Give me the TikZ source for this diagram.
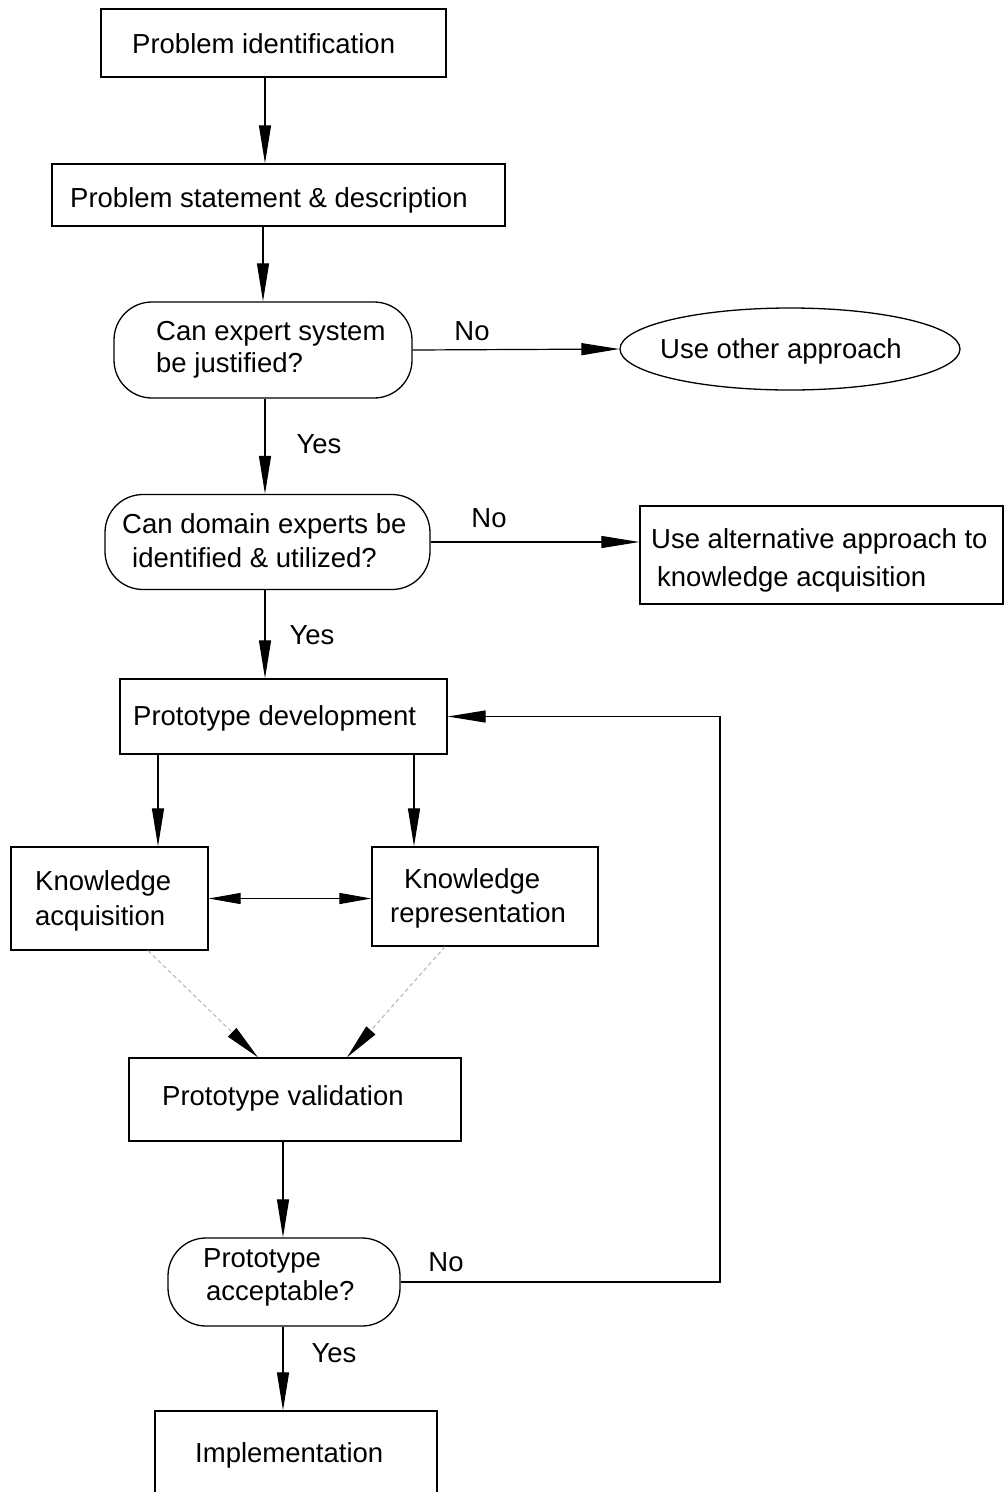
\documentclass[tikz,border=0pt]{standalone}
\usepackage{fontspec}
\setmainfont{Liberation Sans}
\usetikzlibrary{arrows.meta,shapes.geometric}
\begin{document}
\begin{tikzpicture}[x=1pt,y=-1pt,
  font=\fontsize{27.5}{34}\selectfont,
  box/.style={draw, line width=1.3pt, inner sep=0pt},
  decision/.style={box, rounded corners=38pt},
  words/.style={anchor=base west, inner sep=0pt},
  arr/.style={line width=1.2pt, -{Triangle[length=38pt,width=12pt]}},
  twoway/.style={line width=1.2pt, {Triangle[length=32pt,width=11pt]}-{Triangle[length=32pt,width=11pt]}},
  faint/.style={draw=gray!55, line width=1.1pt, dash pattern=on 4pt off 3pt,
    -{Triangle[length=36pt,width=12pt,color=black]}},
  lbl/.style={anchor=base}]
\useasboundingbox (0,0) rectangle (1005,1492);

% shapes
\node[box, minimum width=345pt, minimum height=68pt] (pi) at (273.5,43) {};
\node[box, minimum width=453pt, minimum height=62pt] (ps) at (278.5,195) {};
\node[decision, minimum width=298pt, minimum height=96pt] (q1) at (263,350) {};
\node[draw, ellipse, line width=1.3pt, minimum width=340pt, minimum height=82pt, inner sep=0pt] (oa) at (790,349) {};
\node[decision, minimum width=325pt, minimum height=95pt] (q2) at (267.5,542) {};
\node[box, minimum width=363pt, minimum height=98pt] (alt) at (821.5,555) {};
\node[box, minimum width=327pt, minimum height=75pt] (pd) at (283.5,716.5) {};
\node[box, minimum width=197pt, minimum height=103pt] (ka) at (109.5,898.5) {};
\node[box, minimum width=226pt, minimum height=99pt] (kr) at (485,896.5) {};
\node[box, minimum width=332pt, minimum height=83pt] (pv) at (295,1099.5) {};
\node[decision, minimum width=232pt, minimum height=88pt] (q3) at (284,1282) {};
\node[box, minimum width=282pt, minimum height=100pt] (im) at (296,1461) {};

% texts inside the shapes (one node per line)
\node[words] (pi-a) at (132,53) {Problem identification};
\node[words] (ps-a) at (70,207) {Problem statement \& description};
\node[words] (q1-a) at (156,340) {Can expert system};
\node[words] (q1-b) at (156,372) {be justified?};
\node[words] (oa-a) at (660,358) {Use other approach};
\node[words] (q2-a) at (122,533) {Can domain experts be};
\node[words] (q2-b) at (132,567) {identified \& utilized?};
\node[words] (alt-a) at (651,548) {Use alternative approach to};
\node[words] (alt-b) at (657,586) {knowledge acquisition};
\node[words] (pd-a) at (133,725) {Prototype development};
\node[words] (ka-a) at (35,890) {Knowledge};
\node[words] (ka-b) at (35,925) {acquisition};
\node[words] (kr-a) at (404,888) {Knowledge};
\node[words] (kr-b) at (390,922) {representation};
\node[words] (pv-a) at (162,1105) {Prototype validation};
\node[words] (q3-a) at (203,1267) {Prototype};
\node[words] (q3-b) at (206,1300) {acceptable?};
\node[words] (im-a) at (195,1462) {Implementation};

% connectors
\draw[arr] (265,0 |- pi.south) -- (265,0 |- ps.north);
\draw[arr] (263,0 |- ps.south) -- (263,0 |- q1.north);
\draw[arr] (q1.east) -- (oa.west);
\draw[arr] (265,0 |- q1.south) -- (265,0 |- q2.north);
\draw[arr] (q2.east) -- (q2.east -| alt.west);
\draw[arr] (265,0 |- q2.south) -- (265,0 |- pd.north);
\draw[arr] (158,0 |- pd.south) -- (158,0 |- ka.north);
\draw[arr] (414,0 |- pd.south) -- (414,0 |- kr.north);
\draw[twoway] (ka.east) -- (ka.east -| kr.west);
\draw[faint] (148,0 |- ka.south) -- (258,0 |- pv.north);
\draw[faint] (445,0 |- kr.south) -- (347,0 |- pv.north);
\draw[arr] (283,0 |- pv.south) -- (283,0 |- q3.north);
\draw[arr] (283,0 |- q3.south) -- (283,0 |- im.north);
\draw[arr] (q3.east) -- (720,0 |- q3.east) |- (pd.east);

% branch labels
\node[lbl] (n1) at (472,340) {No};
\node[lbl] (y1) at (319,453) {Yes};
\node[lbl] (n2) at (489,527) {No};
\node[lbl] (y2) at (312,644) {Yes};
\node[lbl] (n3) at (446,1271) {No};
\node[lbl] (y3) at (334,1362) {Yes};
\end{tikzpicture}
\end{document}
